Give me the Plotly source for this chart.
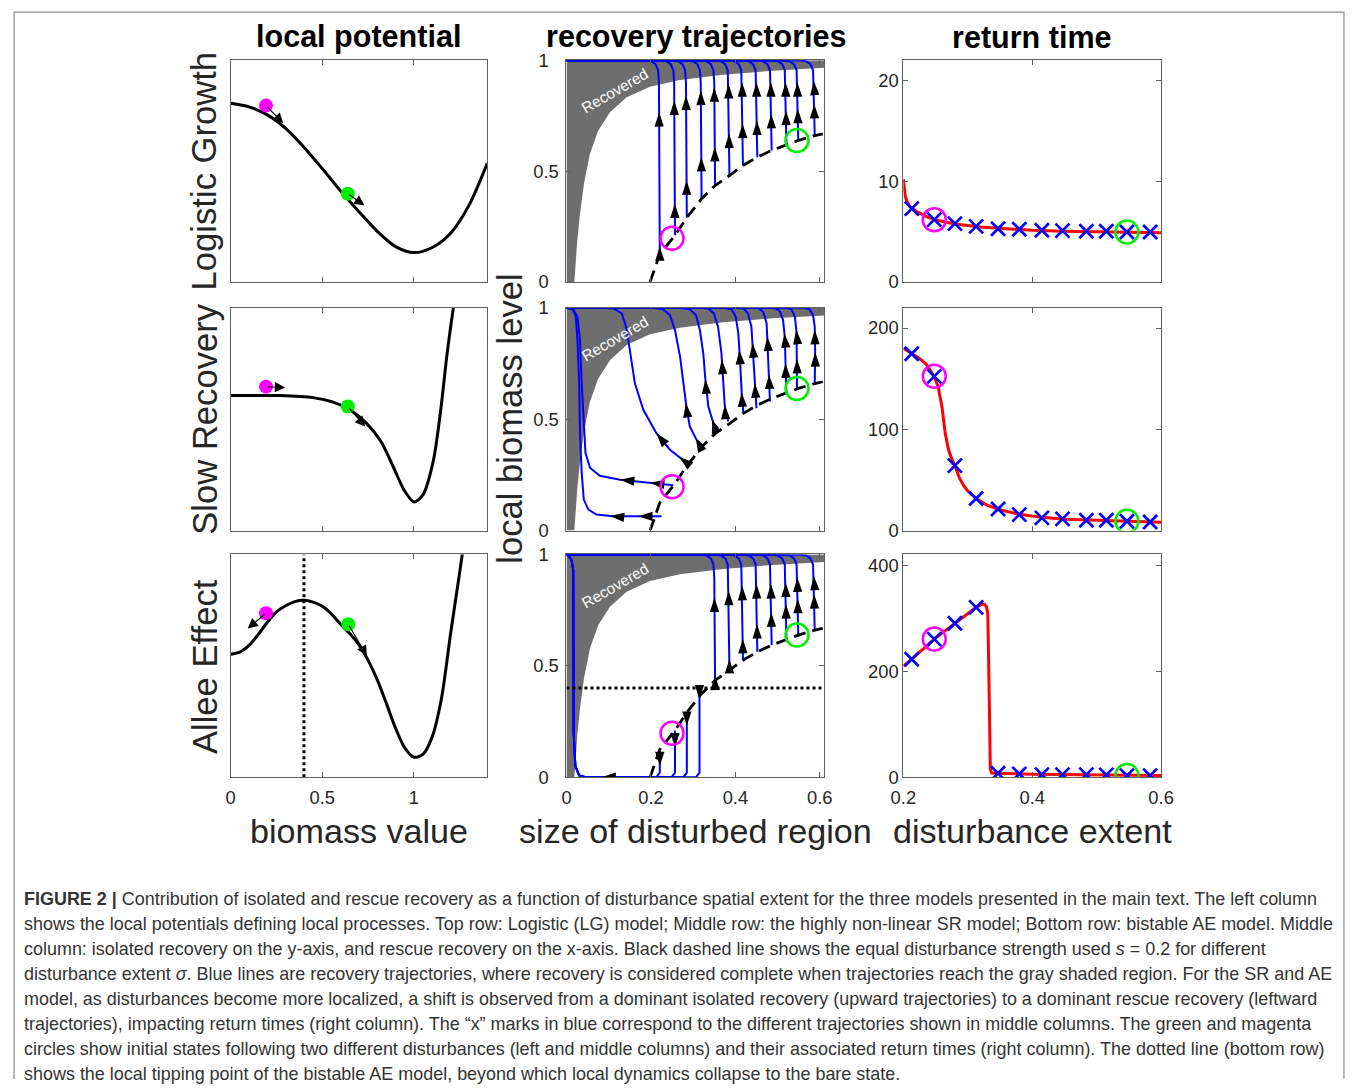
import math
import plotly.graph_objects as go

W, H = 1358, 1089
FONT = "Liberation Sans, Arial, Helvetica, sans-serif"
TXT = "#262626"
AXC = "#5f5f5f"

# ---------------- text ----------------
col_titles = ["local potential", "recovery trajectories", "return time"]
row_labels = ["Logistic Growth", "Slow Recovery", "Allee Effect"]
x_titles = ["biomass value", "size of disturbed region", "disturbance extent"]
mid_y_title = "local biomass level"
recovered_label = "Recovered"
caption_lines = [
    "<b>FIGURE 2 |</b> Contribution of isolated and rescue recovery as a function of disturbance spatial extent for the three models presented in the main text. The left column",
    "shows the local potentials defining local processes. Top row: Logistic (LG) model; Middle row: the highly non-linear SR model; Bottom row: bistable AE model. Middle",
    "column: isolated recovery on the y-axis, and rescue recovery on the x-axis. Black dashed line shows the equal disturbance strength used <i>s</i> = 0.2 for different",
    "disturbance extent <i>σ</i>. Blue lines are recovery trajectories, where recovery is considered complete when trajectories reach the gray shaded region. For the SR and AE",
    "model, as disturbances become more localized, a shift is observed from a dominant isolated recovery (upward trajectories) to a dominant rescue recovery (leftward",
    "trajectories), impacting return times (right column). The \u201cx\u201d marks in blue correspond to the different trajectories shown in middle columns. The green and magenta",
    "circles show initial states following two different disturbances (left and middle columns) and their associated return times (right column). The dotted line (bottom row)",
    "shows the local tipping point of the bistable AE model, beyond which local dynamics collapse to the bare state.",
]

# ---------------- left column: local potentials ----------------
lg_x = [0, 0.1, 0.2, 0.3, 0.4, 0.5, 0.6, 0.7, 0.8, 0.9, 1.0, 1.1, 1.2, 1.3, 1.4]
lg_v = [0, -0.004, -0.013, -0.028, -0.049, -0.073, -0.098, -0.121, -0.143, -0.160, -0.1667, -0.161, -0.145, -0.114, -0.067]
sr_x = [0, 0.27, 0.45, 0.56, 0.65, 0.74, 0.82, 0.89, 0.945, 1.0, 1.05, 1.105, 1.145, 1.18, 1.215, 1.235]
sr_v = [0, 0, -0.019, -0.062, -0.134, -0.259, -0.432, -0.681, -0.885, -1.0, -0.931, -0.619, -0.15, 0.382, 0.826, 1.05]
ae_x = [0, 0.05, 0.1, 0.15, 0.2, 0.25, 0.3, 0.35, 0.4, 0.45, 0.5, 0.55, 0.6, 0.65, 0.7, 0.75, 0.8, 0.85,
        0.9, 0.95, 1.0, 1.05, 1.1, 1.15, 1.2, 1.25, 1.27]
ae_v = [0, 0.02, 0.085, 0.19, 0.31, 0.41, 0.47, 0.51, 0.523, 0.505, 0.465, 0.39, 0.29, 0.2, 0.09, -0.06, -0.25, -0.48,
        -0.72, -0.91, -1.0, -0.97, -0.8, -0.43, 0.2, 0.8, 1.05]
ae_tipping = 0.4

# balls (magenta, green) and where their arrows point
lg_ball_x = [0.193, 0.639]
lg_ball_v = [-0.0026, -0.101]
lg_tip_x = [0.287, 0.73]
lg_tip_v = [-0.0223, -0.114]
sr_ball_x = [0.193, 0.639]
sr_ball_v = [0.084, -0.103]
sr_tip_x = [0.297, 0.734]
sr_tip_v = [0.075, -0.291]
ae_ball_x = [0.193, 0.642]
ae_ball_v = [0.397, 0.29]
ae_tip_x = [0.093, 0.743]
ae_tip_v = [0.249, -0.016]

# ---------------- middle column: recovery trajectories ----------------
recovered_x = [0.0185, 0.0217, 0.0256, 0.032, 0.0414, 0.0556, 0.0753, 0.103, 0.1424, 0.1976, 0.2686, 0.3712, 0.4896, 0.61]
recovered_y = [0.0, 0.083, 0.188, 0.308, 0.443, 0.578, 0.683, 0.765, 0.833, 0.881, 0.911, 0.935, 0.953, 0.966]

dashed_x = [0.198, 0.221, 0.257, 0.285, 0.32, 0.352, 0.386, 0.418, 0.452, 0.486, 0.521, 0.549, 0.588, 0.607]
dashed_y = [0.0, 0.125, 0.21, 0.29, 0.375, 0.435, 0.48, 0.525, 0.563, 0.593, 0.618, 0.638, 0.66, 0.668]

# logistic: all upward
lg_traj_x0 = [0.221, 0.257, 0.285, 0.32, 0.352, 0.386, 0.418, 0.452, 0.486, 0.521, 0.549, 0.588]
lg_traj_y0 = [0.125, 0.21, 0.29, 0.375, 0.435, 0.48, 0.525, 0.563, 0.593, 0.618, 0.638, 0.66]
lg_arrow_y = [[0.765, 0.16], [0.817, 0.353], [0.84, 0.458], [0.862, 0.563], [0.877, 0.608], [0.892, 0.668],
              [0.9, 0.713], [0.9, 0.727], [0.9, 0.757], [0.9, 0.772], [0.9, 0.78], [0.907, 0.802]]

# slow recovery: leftward (rescue) and up-left trajectories
sr_traj_x = [
    [0.225, 0.174, 0.111, 0.071, 0.052, 0.041, 0.036, 0.032, 0.030, 0.026, 0.022, 0.015, 0.004, 0.0],
    [0.253, 0.198, 0.127, 0.079, 0.056, 0.045, 0.041, 0.036, 0.032, 0.026, 0.016, 0.004, 0.0],
    [0.288, 0.273, 0.245, 0.213, 0.182, 0.162, 0.150, 0.141, 0.131, 0.111, 0.087, 0.0],
    [0.324, 0.308, 0.292, 0.284, 0.277, 0.269, 0.257, 0.245, 0.229, 0.206, 0.0],
    [0.359, 0.348, 0.336, 0.329, 0.324, 0.316, 0.307, 0.292, 0.269, 0.0],
    [0.383, 0.375, 0.371, 0.367, 0.359, 0.349, 0.336, 0.316, 0.0],
    [0.419, 0.415, 0.411, 0.407, 0.401, 0.391, 0.371, 0.0],
    [0.45, 0.446, 0.442, 0.438, 0.43, 0.419, 0.399, 0.0],
    [0.482, 0.48, 0.477, 0.474, 0.466, 0.454, 0.434, 0.0],
    [0.521, 0.519, 0.517, 0.513, 0.505, 0.493, 0.474, 0.0],
    [0.546, 0.546, 0.545, 0.541, 0.533, 0.521, 0.0],
    [0.588, 0.589, 0.588, 0.584, 0.576, 0.561, 0.0],
]
sr_traj_y = [
    [0.064, 0.064, 0.064, 0.072, 0.094, 0.139, 0.258, 0.437, 0.661, 0.855, 0.96, 0.993, 1.0, 1.0],
    [0.203, 0.214, 0.228, 0.246, 0.281, 0.348, 0.467, 0.661, 0.855, 0.96, 0.993, 1.0, 1.0],
    [0.296, 0.321, 0.363, 0.437, 0.542, 0.661, 0.811, 0.915, 0.975, 0.997, 1.0, 1.0],
    [0.378, 0.408, 0.467, 0.557, 0.661, 0.781, 0.9, 0.967, 0.993, 1.0, 1.0],
    [0.46, 0.482, 0.557, 0.676, 0.796, 0.9, 0.967, 0.993, 1.0, 1.0],
    [0.49, 0.557, 0.676, 0.796, 0.915, 0.975, 0.997, 1.0, 1.0],
    [0.527, 0.617, 0.766, 0.885, 0.96, 0.993, 1.0, 1.0],
    [0.549, 0.661, 0.811, 0.915, 0.975, 0.997, 1.0, 1.0],
    [0.579, 0.69, 0.84, 0.93, 0.982, 0.999, 1.0, 1.0],
    [0.609, 0.736, 0.87, 0.945, 0.986, 1.0, 1.0, 1.0],
    [0.639, 0.766, 0.885, 0.96, 0.993, 1.0, 1.0],
    [0.661, 0.796, 0.915, 0.967, 0.993, 1.0, 1.0],
]
sr_arrows = [(0, "x", 0.103), (0, "x", 0.17), (1, "x", 0.127), (1, "x", 0.198),
             (2, "y", 0.437), (2, "y", 0.33), (3, "y", 0.572), (3, "y", 0.415),
             (4, "y", 0.678), (4, "y", 0.5), (5, "y", 0.766), (5, "y", 0.564),
             (6, "y", 0.81), (6, "y", 0.62), (7, "y", 0.84), (7, "y", 0.66),
             (8, "y", 0.87), (8, "y", 0.7), (9, "y", 0.885), (9, "y", 0.75),
             (10, "y", 0.9), (10, "y", 0.77), (11, "y", 0.9), (11, "y", 0.8)]

# Allee effect: collapse below the tipping point, recover above it
ae_down_x0 = [0.221, 0.257, 0.285, 0.315]
ae_down_y0 = [0.125, 0.21, 0.29, 0.372]
ae_down_arrow_y = [0.05, 0.134, 0.231, 0.35]
ae_collapse_arrow_x = 0.083
ae_up_x0 = [0.352, 0.386, 0.418, 0.452, 0.486, 0.521, 0.549, 0.588]
ae_up_y0 = [0.435, 0.48, 0.525, 0.563, 0.593, 0.618, 0.638, 0.66]
ae_up_arrow_y = [[0.806, 0.455], [0.836, 0.53], [0.858, 0.62], [0.866, 0.687],
                 [0.866, 0.739], [0.873, 0.776], [0.896, 0.8], [0.903, 0.821]]

mid_magenta = (0.25, 0.197)
mid_green = (0.546, 0.638)

# ---------------- right column: return time ----------------
rt_sigma = [0.213, 0.248, 0.28, 0.313, 0.347, 0.38, 0.415, 0.447, 0.484, 0.515, 0.547, 0.583]
rt_lg = [7.27, 6.18, 5.78, 5.51, 5.28, 5.22, 5.12, 5.09, 5.02, 5.02, 4.95, 4.95]
rt_sr = [174.6, 152.3, 64.1, 31.7, 21.3, 15.7, 12.5, 11.5, 10.1, 10.1, 9.1, 8.5]
rt_ae = [223, 261, 291, 321, 7.5, 6.2, 4.9, 4.9, 4.9, 4.3, 3.0, 3.0]
rt_lg_cx = [0.2, 0.201, 0.203, 0.206, 0.21, 0.22, 0.235, 0.25, 0.28, 0.32, 0.36, 0.4, 0.45, 0.5, 0.55, 0.6]
rt_lg_cy = [10.2, 9.3, 8.5, 7.9, 7.5, 7.0, 6.5, 6.15, 5.75, 5.45, 5.25, 5.12, 5.03, 4.97, 4.93, 4.88]
rt_sr_cx = [0.2, 0.213, 0.225, 0.236, 0.248, 0.254, 0.26, 0.265, 0.27, 0.275, 0.28, 0.287, 0.293, 0.3, 0.313, 0.33, 0.347, 0.38, 0.415, 0.45, 0.5, 0.55, 0.6]
rt_sr_cy = [180, 175, 170, 164, 152, 142, 122, 96, 80, 71, 64, 52, 45, 39, 31.7, 25, 21, 16, 13, 11.2, 10, 9, 8.2]
rt_ae_cx = [0.2, 0.213, 0.248, 0.28, 0.313, 0.322, 0.326, 0.329, 0.331, 0.332, 0.333, 0.334, 0.335, 0.337, 0.345, 0.4, 0.5, 0.6]
rt_ae_cy = [210, 223, 261, 291, 321, 327, 327, 322, 310, 250, 150, 60, 15, 8, 7.5, 5.5, 4, 3]
rt_marked = [1, 10]  # magenta, green

# ---------------- layout geometry (pixels of the target picture) ----------------
# the captured page shows a small inset; positions below are given in target pixels
OFFX, SX, OFFY, SY = 13.1, 0.9807, 10.1, 0.9833
FS = 2.0 / (SX + SY)
col_px = [(230.7, 487.3), (566.5, 824.0), (903.3, 1161.0)]
row_px = [(59.5, 281.7), (307.7, 531.0), (555.0, 778.3)]
left_ranges = [(-0.1994, 0.048), (-1.269, 0.8255), (-1.194, 0.968)]
right_ranges = [(0, 22), (0, 220), (0, 421)]
right_ticks = [[0, 10, 20], [0, 100, 200], [0, 200, 400]]

fig = go.Figure()


def ax_names(r, c):
    k = r * 3 + c + 1
    s = "" if k == 1 else str(k)
    return "x" + s, "y" + s, "xaxis" + s, "yaxis" + s


def px_x(p):
    return ((p - OFFX) / SX) / W


def px_y(p):
    return 1 - ((p - OFFY) / SY) / H


def fs(v):
    return round(v * FS, 2)


base_axis = dict(showline=True, linecolor=AXC, linewidth=1, mirror="ticks", ticks="inside",
                 ticklen=5, tickcolor=AXC, tickwidth=1, showgrid=False, zeroline=False,
                 tickfont=dict(family=FONT, size=fs(18), color=TXT), fixedrange=True)

layout_axes = {}
for r in range(3):
    for c in range(3):
        xn, yn, xk, yk = ax_names(r, c)
        xa = dict(base_axis, domain=[px_x(col_px[c][0]), px_x(col_px[c][1])], anchor=yn, ticklabelstandoff=4)
        ya = dict(base_axis, domain=[px_y(row_px[r][1]), px_y(row_px[r][0])], anchor=xn)
        if c == 0:
            xa.update(range=[0, 1.4], tickvals=[0, 0.5, 1], ticktext=["0", "0.5", "1"], showticklabels=(r == 2))
            ya.update(range=list(left_ranges[r]), ticks="", showticklabels=False)
        elif c == 1:
            xa.update(range=[0, 0.61], tickvals=[0, 0.2, 0.4, 0.6], ticktext=["0", "0.2", "0.4", "0.6"], showticklabels=(r == 2))
            ya.update(range=[0, 1], tickvals=[0, 0.5, 1], ticktext=["0  ", "0.5", "1  "], ticklabelstandoff=3)
        else:
            xa.update(range=[0.2, 0.6], tickvals=[0.2, 0.4, 0.6], ticktext=["0.2", "0.4", "0.6"], showticklabels=(r == 2))
            ya.update(range=list(right_ranges[r]), tickvals=right_ticks[r])
        layout_axes[xk] = xa
        layout_axes[yk] = ya

annotations = []

# ---------- left column ----------
pots = [(lg_x, lg_v), (sr_x, sr_v), (ae_x, ae_v)]
balls = [(lg_ball_x, lg_ball_v, lg_tip_x, lg_tip_v), (sr_ball_x, sr_ball_v, sr_tip_x, sr_tip_v),
         (ae_ball_x, ae_ball_v, ae_tip_x, ae_tip_v)]
for r in range(3):
    xn, yn, _, _ = ax_names(r, 0)
    if r == 2:
        fig.add_trace(go.Scatter(x=[ae_tipping, ae_tipping], y=list(left_ranges[2]), mode="lines",
                                 line=dict(color="black", width=3, dash="dot"), xaxis=xn, yaxis=yn, hoverinfo="skip"))
    px_, pv_ = pots[r]
    fig.add_trace(go.Scatter(x=px_, y=pv_, mode="lines", line=dict(color="black", width=3, shape="spline", smoothing=0.8),
                             xaxis=xn, yaxis=yn, hoverinfo="skip"))
    bx, bv, tx, tv = balls[r]
    fig.add_trace(go.Scatter(x=bx, y=bv, mode="markers",
                             marker=dict(size=14, color=["#ff00ff", "#00ee00"]), xaxis=xn, yaxis=yn, hoverinfo="skip"))
    for i in range(2):
        annotations.append(dict(x=tx[i], y=tv[i], ax=bx[i], ay=bv[i], xref=xn, yref=yn, axref=xn, ayref=yn,
                                showarrow=True, arrowhead=2, arrowsize=1.7, arrowwidth=1.2, arrowcolor="black", text=""))

# ---------- middle column ----------
PXX, PXY = 422.5, 222.5


def on_path(xs, ys, mode, level):
    for i in range(len(xs) - 1):
        a = xs[i] if mode == "x" else ys[i]
        b = xs[i + 1] if mode == "x" else ys[i + 1]
        if a != b and (a - level) * (b - level) <= 0:
            t = (level - a) / (b - a)
            x = xs[i] + t * (xs[i + 1] - xs[i])
            y = ys[i] + t * (ys[i + 1] - ys[i])
            ang = math.degrees(math.atan2((xs[i + 1] - xs[i]) * PXX, (ys[i + 1] - ys[i]) * PXY))
            return x, y, ang
    return None


def up_path(x0, y0):
    return ([x0, x0 - 0.002, x0 - 0.004, x0 - 0.01, x0 - 0.02, x0 - 0.035, 0.0],
            [y0, 0.9, 0.955, 0.982, 0.995, 0.999, 1.0])


def down_path(x0, y0):
    return ([x0, x0, x0 - 0.008, 0.045, 0.03, 0.021, 0.017, 0.016, 0.012, 0.004, 0.0],
            [y0, 0.02, 0.0, 0.0, 0.008, 0.05, 0.2, 0.93, 0.975, 0.996, 1.0])


paths_rows = []
arrows_rows = []
# LG
paths, arrows = [], []
for i, (x0, y0) in enumerate(zip(lg_traj_x0, lg_traj_y0)):
    xs, ys = up_path(x0, y0)
    paths.append((xs, ys))
    for lv in lg_arrow_y[i]:
        arrows.append(on_path(xs, ys, "y", lv))
paths_rows.append(paths)
arrows_rows.append(arrows)
# SR
paths, arrows = [], []
for xs, ys in zip(sr_traj_x, sr_traj_y):
    paths.append((xs, ys))
for idx, mode, lv in sr_arrows:
    arrows.append(on_path(sr_traj_x[idx], sr_traj_y[idx], mode, lv))
paths_rows.append(paths)
arrows_rows.append(arrows)
# AE
paths, arrows = [], []
for i, (x0, y0) in enumerate(zip(ae_down_x0, ae_down_y0)):
    xs, ys = down_path(x0, y0)
    paths.append((xs, ys))
    arrows.append(on_path(xs, ys, "y", ae_down_arrow_y[i]))
    if i == 0:
        arrows.append(on_path(xs, ys, "x", ae_collapse_arrow_x))
for i, (x0, y0) in enumerate(zip(ae_up_x0, ae_up_y0)):
    xs, ys = up_path(x0, y0)
    paths.append((xs, ys))
    for lv in ae_up_arrow_y[i]:
        arrows.append(on_path(xs, ys, "y", lv))
paths_rows.append(paths)
arrows_rows.append(arrows)

for r in range(3):
    xn, yn, _, _ = ax_names(r, 1)
    gx = [0.0] + recovered_x + [0.61, 0.61, 0.0]
    gy = [0.0] + recovered_y + [recovered_y[-1], 1.0, 1.0]
    fig.add_trace(go.Scatter(x=gx, y=gy, mode="lines", fill="toself", fillcolor="#6e6e6e",
                             line=dict(width=0, color="#6e6e6e"), xaxis=xn, yaxis=yn, hoverinfo="skip"))
    bx, by = [], []
    for xs, ys in paths_rows[r]:
        bx += list(xs) + [None]
        by += list(ys) + [None]
    fig.add_trace(go.Scatter(x=bx, y=by, mode="lines", line=dict(color="#0000ff", width=2),
                             xaxis=xn, yaxis=yn, hoverinfo="skip"))
    fig.add_trace(go.Scatter(x=dashed_x, y=dashed_y, mode="lines",
                             line=dict(color="black", width=2.8, dash="12px,7px"),
                             xaxis=xn, yaxis=yn, hoverinfo="skip"))
    if r == 2:
        fig.add_trace(go.Scatter(x=[0, 0.61], y=[ae_tipping, ae_tipping], mode="lines",
                                 line=dict(color="black", width=3, dash="dot"), xaxis=xn, yaxis=yn, hoverinfo="skip"))
    arr = [a for a in arrows_rows[r] if a is not None]
    fig.add_trace(go.Scatter(x=[a[0] for a in arr], y=[a[1] for a in arr], mode="markers",
                             marker=dict(symbol="arrow", size=15, color="black", angle=[a[2] for a in arr],
                                         line=dict(width=0)),
                             xaxis=xn, yaxis=yn, hoverinfo="skip"))
    fig.add_trace(go.Scatter(x=[mid_magenta[0], mid_green[0]], y=[mid_magenta[1], mid_green[1]], mode="markers",
                             marker=dict(symbol="circle-open", size=23, color=["#ff00ff", "#00ee00"],
                                         line=dict(width=2.5, color=["#ff00ff", "#00ee00"])),
                             xaxis=xn, yaxis=yn, hoverinfo="skip"))
    annotations.append(dict(x=0.115, y=0.862, xref=xn, yref=yn, text=recovered_label, showarrow=False,
                            textangle=-30, font=dict(family=FONT, size=fs(15), color="white")))

# ---------- right column ----------
curves = [(rt_lg_cx, rt_lg_cy, rt_lg), (rt_sr_cx, rt_sr_cy, rt_sr), (rt_ae_cx, rt_ae_cy, rt_ae)]
for r in range(3):
    xn, yn, _, _ = ax_names(r, 2)
    cx, cy, marks = curves[r]
    fig.add_trace(go.Scatter(x=cx, y=cy, mode="lines", line=dict(color="#ff0000", width=3),
                             xaxis=xn, yaxis=yn, hoverinfo="skip"))
    fig.add_trace(go.Scatter(x=rt_sigma, y=marks, mode="markers",
                             marker=dict(symbol="x-thin", size=14, line=dict(width=2.7, color="#0000ff")),
                             xaxis=xn, yaxis=yn, hoverinfo="skip"))
    fig.add_trace(go.Scatter(x=[rt_sigma[i] for i in rt_marked], y=[marks[i] for i in rt_marked], mode="markers",
                             marker=dict(symbol="circle-open", size=23, color=["#ff00ff", "#00ee00"],
                                         line=dict(width=2.5, color=["#ff00ff", "#00ee00"])),
                             xaxis=xn, yaxis=yn, hoverinfo="skip"))

# ---------- titles and labels ----------
title_cx = [359, 696, 1032]
for c in range(3):
    annotations.append(dict(x=px_x(title_cx[c]), y=px_y(36), xref="paper", yref="paper", showarrow=False,
                            text="<b>%s</b>" % col_titles[c], xanchor="center", yanchor="middle",
                            font=dict(family=FONT, size=fs(30), color="black")))
    annotations.append(dict(x=px_x(title_cx[c] - (1 if c == 1 else 0)), y=px_y(832), xref="paper", yref="paper",
                            showarrow=False, text=x_titles[c], xanchor="center", yanchor="middle",
                            font=dict(family=FONT, size=fs(33.5), color=TXT)))
row_cy = [170, 419, 667]
for r in range(3):
    annotations.append(dict(x=px_x(205), y=px_y(row_cy[r]), xref="paper", yref="paper", showarrow=False,
                            text=row_labels[r], textangle=-90, xanchor="center", yanchor="middle",
                            font=dict(family=FONT, size=fs(34), color=TXT)))
annotations.append(dict(x=px_x(510), y=px_y(419), xref="paper", yref="paper", showarrow=False,
                        text=mid_y_title, textangle=-90, xanchor="center", yanchor="middle",
                        font=dict(family=FONT, size=fs(34), color=TXT)))

for i, line in enumerate(caption_lines):
    annotations.append(dict(x=px_x(22), y=px_y(900 + 25.1 * i), xref="paper", yref="paper", showarrow=False,
                            text=line, xanchor="left", yanchor="middle", align="left",
                            font=dict(family=FONT, size=fs(17.65), color="#333333")))

fig.update_layout(
    autosize=True, margin=dict(l=0, r=0, t=0, b=0),
    paper_bgcolor="white", plot_bgcolor="white", showlegend=False,
    annotations=annotations,
    shapes=[dict(type="path", xref="paper", yref="paper",
                 path="M 0.0008,0 L 0.0008,0.999 L 0.9992,0.999 L 0.9992,0",
                 line=dict(color="#8c8c8c", width=1.2), layer="below")],
    **layout_axes,
)

fig.write_html("out.html", config={"displayModeBar": False, "responsive": True},
               post_script="document.body.style.margin='0';document.body.style.overflow='hidden';"
                           "Plotly.Plots.resize(document.getElementById('{plot_id}'));")
